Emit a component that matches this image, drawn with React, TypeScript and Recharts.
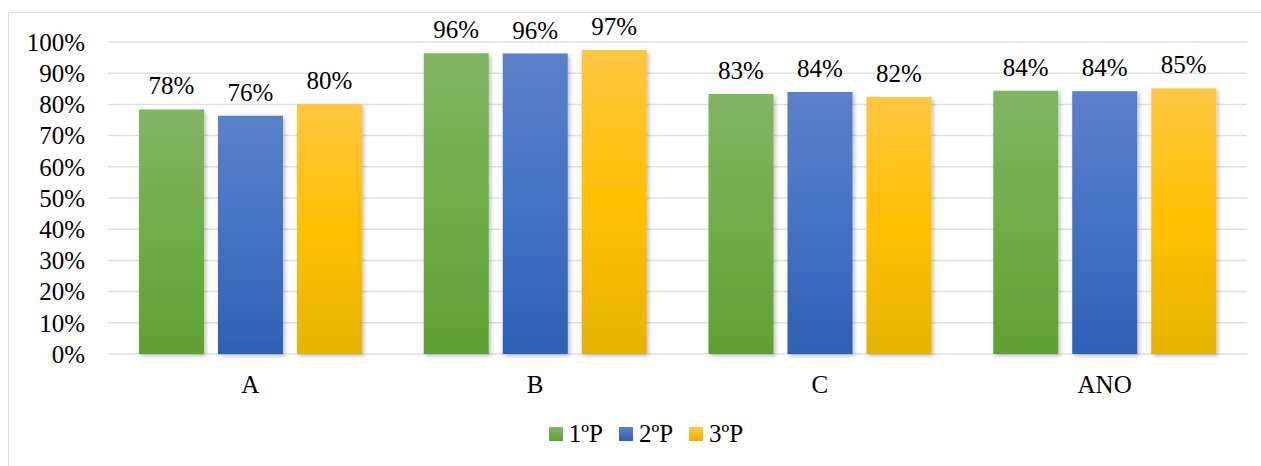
import { BarChart, Bar, XAxis, YAxis, CartesianGrid, Legend, LabelList } from "recharts";

const categories = ["A", "B", "C", "ANO"];
const p1 = [0.784, 0.964, 0.833, 0.844];
const p2 = [0.764, 0.963, 0.84, 0.842];
const p3 = [0.801, 0.974, 0.824, 0.851];
const seriesNames = ["1ºP", "2ºP", "3ºP"];
const yTicks = [0, 0.1, 0.2, 0.3, 0.4, 0.5, 0.6, 0.7, 0.8, 0.9, 1];

const data = categories.map((c, i) => ({ cat: c, p1: p1[i], p2: p2[i], p3: p3[i] }));

const font = "'Liberation Serif', 'DejaVu Serif', serif";
const pct = (v: number) => `${Math.round(v * 100)}%`;

const grads = [
    { id: "g1", top: "#82b564", mid: "#70ad47", bottom: "#60a033" },
    { id: "g2", top: "#5c80c9", mid: "#4472c4", bottom: "#2d60b5" },
    { id: "g3", top: "#ffc641", mid: "#ffc000", bottom: "#e6b300" },
];

function LegendBox() {
    return (
        <div style={{ display: "flex", justifyContent: "center", fontFamily: font, fontSize: 25, color: "#000" }}>
            {seriesNames.map((n, i) => (
                <div key={n} style={{ display: "flex", alignItems: "center", marginRight: i < 2 ? 16 : 0 }}>
                    <div style={{ width: 14, height: 14, background: `linear-gradient(${grads[i].top}, ${grads[i].bottom})`, marginRight: 6 }} />
                    <span>{n}</span>
                </div>
            ))}
        </div>
    );
}

export default function App() {
    const keys = ["p1", "p2", "p3"];
    return (
        <div style={{ position: "fixed", left: 0, top: 0, width: 1261, height: 466, overflow: "hidden", background: "#fff" }}>
            <div style={{ position: "absolute", left: 8, top: 12, width: 1300, height: 500, border: "1.5px solid #d9dde3" }} />
            <div style={{ position: "absolute", left: 0, top: 0 }}>
                <BarChart
                    width={1261}
                    height={466}
                    data={data}
                    margin={{ top: 42, right: 14, bottom: 0, left: 0 }}
                    barGap={14}
                    barCategoryGap={31}
                >
                    <defs>
                        {grads.map((g) => (
                            <linearGradient key={g.id} id={g.id} x1="0" y1="0" x2="0" y2="1">
                                <stop offset="0%" stopColor={g.top} />
                                <stop offset="50%" stopColor={g.mid} />
                                <stop offset="100%" stopColor={g.bottom} />
                            </linearGradient>
                        ))}
                        <filter id="shadow" x="-10%" y="-10%" width="130%" height="130%">
                            <feDropShadow dx="2" dy="2" stdDeviation="2" floodColor="#000" floodOpacity="0.25" />
                        </filter>
                    </defs>
                    <CartesianGrid vertical={false} stroke="#dde1e6" strokeWidth={1.5} />
                    <XAxis
                        dataKey="cat"
                        height={112}
                        axisLine={false}
                        tickLine={false}
                        tickSize={0}
                        tickMargin={21}
                        interval={0}
                        tick={{ fontFamily: font, fontSize: 25, fill: "#000" }}
                    />
                    <YAxis
                        width={108}
                        domain={[0, 1]}
                        ticks={yTicks}
                        interval={0}
                        tickFormatter={pct}
                        axisLine={false}
                        tickLine={false}
                        tickSize={0}
                        tickMargin={23}
                        tick={{ fontFamily: font, fontSize: 25, fill: "#000" }}
                    />
                    <Legend
                        verticalAlign="middle"
                        layout="horizontal"
                        content={() => <LegendBox />}
                        wrapperStyle={{ top: 420, left: 0, width: 1292 }}
                    />
                    {keys.map((k, i) => (
                        <Bar
                            key={k}
                            dataKey={k}
                            name={seriesNames[i]}
                            fill={`url(#${grads[i].id})`}
                            barSize={65}
                            filter="url(#shadow)"
                            isAnimationActive={false}
                        >
                            <LabelList
                                dataKey={k}
                                position="top"
                                offset={15}
                                formatter={(v: any) => pct(Number(v))}
                                style={{ fontFamily: font, fontSize: 25, fill: "#000" }}
                            />
                        </Bar>
                    ))}
                </BarChart>
            </div>
        </div>
    );
}
